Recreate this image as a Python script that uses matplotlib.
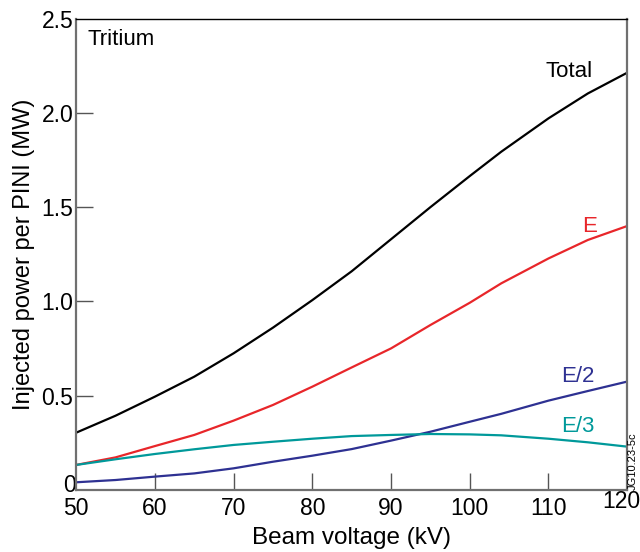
import matplotlib
matplotlib.use('Agg')
import matplotlib.pyplot as plt
import matplotlib.transforms as mtransforms

#values
kv = [50, 55, 60, 65, 70, 75, 80, 85, 90, 95, 100, 104, 110, 115, 120]
total = [0.304, 0.394, 0.495, 0.601, 0.725, 0.861, 1.007, 1.16, 1.33, 1.50, 1.665, 1.794, 1.971, 2.103, 2.213]
e_full = [0.133, 0.173, 0.233, 0.292, 0.368, 0.451, 0.548, 0.65, 0.751, 0.875, 0.993, 1.096, 1.228, 1.326, 1.400]
e_half = [0.041, 0.053, 0.071, 0.088, 0.115, 0.150, 0.182, 0.217, 0.262, 0.309, 0.362, 0.404, 0.474, 0.525, 0.575]
e_third = [0.133, 0.163, 0.191, 0.216, 0.239, 0.256, 0.272, 0.286, 0.292, 0.297, 0.295, 0.290, 0.272, 0.253, 0.230]

x_ticks = [50, 60, 70, 80, 90, 100, 110, 120]
y_ticks = [0, 0.5, 1.0, 1.5, 2.0, 2.5]
y_tick_labels = ['0', '0.5', '1.0', '1.5', '2.0', '2.5']

plt.rcParams['font.family'] = ['Liberation Sans', 'DejaVu Sans']

fig = plt.figure(figsize=(6.4, 5.52), dpi=100)
ax = fig.add_axes([0.119, 0.1123, 0.861, 0.854])

ax.plot(kv, total, color='black', lw=1.6)
ax.plot(kv, e_full, color='#e8262a', lw=1.6)
ax.plot(kv, e_half, color='#2e3192', lw=1.6)
ax.plot(kv, e_third, color='#00999a', lw=1.6)

ax.set_xlim(50, 120)
ax.set_ylim(0, 2.5)
ax.set_xticks(x_ticks)
ax.set_yticks(y_ticks)
ax.set_yticklabels(y_tick_labels)
ax.tick_params(direction='in', length=12, width=1, colors='#555555',
               labelcolor='black', labelsize=16.5, pad=2)
ax.tick_params(axis='x', pad=5)
# no tick marks on the axis ends, labels stay
for t in [ax.xaxis.get_major_ticks()[0], ax.xaxis.get_major_ticks()[-1],
          ax.yaxis.get_major_ticks()[0], ax.yaxis.get_major_ticks()[-1]]:
    t.tick1line.set_visible(False)
#nudge the '0' up and the '120' left like in the original
ax.yaxis.get_major_ticks()[0].label1.set_transform(
    ax.get_yaxis_transform('tick1') + mtransforms.ScaledTranslation(0, 5/72, fig.dpi_scale_trans))
ax.xaxis.get_major_ticks()[-1].label1.set_transform(
    ax.get_xaxis_transform('tick1') + mtransforms.ScaledTranslation(-4/72, 0, fig.dpi_scale_trans))

for side in ['left', 'bottom', 'right']:
    ax.spines[side].set_color('#707070')
    ax.spines[side].set_linewidth(1.6)
ax.spines['top'].set_color('black')
ax.spines['top'].set_linewidth(1.0)

ax.set_xlabel('Beam voltage (kV)', fontsize=17.5, labelpad=5)
ax.set_ylabel('Injected power per PINI (MW)', fontsize=17, labelpad=5)

ax.text(51.4, 2.39, 'Tritium', fontsize=16, ha='left', va='center')
ax.text(115.6, 2.22, 'Total', fontsize=16, ha='right', va='center')
ax.text(116.2, 1.40, 'E', fontsize=16, ha='right', va='center', color='#e8262a')
ax.text(115.8, 0.60, 'E/2', fontsize=16, ha='right', va='center', color='#2e3192')
ax.text(115.8, 0.336, 'E/3', fontsize=16, ha='right', va='center', color='#00999a')
fig.text(0.989, 0.165, 'JG10.23-5c', fontsize=8, rotation=90, ha='center', va='center')

fig.savefig('out.png', dpi=100)
